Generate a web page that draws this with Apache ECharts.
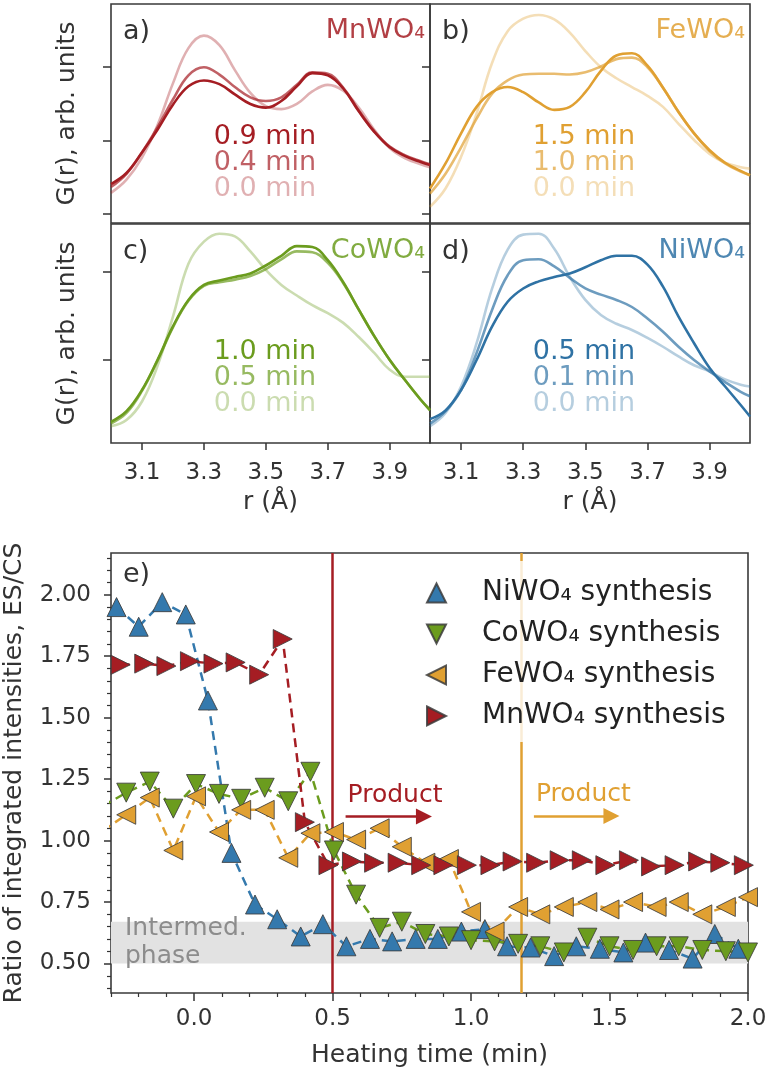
<!DOCTYPE html>
<html>
<head>
<meta charset="utf-8">
<title>Tungstate synthesis</title>
<script src="https://cdn.jsdelivr.net/npm/echarts@6/dist/echarts.min.js"></script>
<style>
	html, body { margin: 0; padding: 0; background: #fff; }
	#chart { width: 774px; height: 1072px; }
</style>
</head>
<body>
<div id="chart"></div>
<script>
// r grid (Å) shared by the four G(r) panels
var r_grid = [3.00, 3.05, 3.10, 3.15, 3.20, 3.25, 3.30, 3.35, 3.40, 3.45, 3.50, 3.55, 3.60, 3.65, 3.70, 3.75, 3.80, 3.85, 3.90, 3.95, 4.00, 4.03];

// a) MnWO4
var mn_g_00 = [0.29, 0.47, 0.77, 1.21, 1.78, 2.26, 2.43, 2.30, 1.96, 1.65, 1.47, 1.43, 1.50, 1.67, 1.76, 1.68, 1.45, 1.15, 0.90, 0.76, 0.68, 0.64];
var mn_g_04 = [0.37, 0.55, 0.84, 1.18, 1.56, 1.89, 2.00, 1.90, 1.73, 1.59, 1.54, 1.59, 1.76, 1.93, 1.91, 1.72, 1.41, 1.13, 0.92, 0.80, 0.72, 0.68];
var mn_g_09 = [0.41, 0.56, 0.84, 1.15, 1.49, 1.74, 1.82, 1.77, 1.63, 1.50, 1.45, 1.54, 1.74, 1.92, 1.89, 1.71, 1.40, 1.12, 0.91, 0.79, 0.71, 0.67];

// b) FeWO4
var fe_g_00 = [0.10, 0.35, 0.78, 1.37, 2.06, 2.49, 2.66, 2.71, 2.65, 2.47, 2.22, 2.00, 1.85, 1.73, 1.61, 1.46, 1.23, 1.01, 0.82, 0.70, 0.64, 0.62];
var fe_g_10 = [0.28, 0.55, 0.91, 1.30, 1.64, 1.82, 1.90, 1.91, 1.91, 1.90, 1.93, 2.01, 2.11, 2.13, 2.00, 1.72, 1.39, 1.10, 0.86, 0.69, 0.58, 0.53];
var fe_g_15 = [0.35, 0.69, 1.10, 1.46, 1.66, 1.73, 1.66, 1.52, 1.42, 1.46, 1.66, 1.95, 2.16, 2.19, 2.02, 1.72, 1.39, 1.10, 0.87, 0.70, 0.59, 0.53];

// c) CoWO4
var co_g_00 = [0.25, 0.32, 0.53, 0.93, 1.49, 2.09, 2.34, 2.43, 2.40, 2.23, 2.02, 1.85, 1.73, 1.62, 1.53, 1.42, 1.26, 1.08, 0.89, 0.81, 0.81, 0.81];
var co_g_05 = [0.28, 0.40, 0.65, 0.99, 1.37, 1.67, 1.84, 1.88, 1.91, 1.95, 2.03, 2.14, 2.23, 2.22, 2.10, 1.87, 1.57, 1.27, 1.00, 0.77, 0.55, 0.44];
var co_g_10 = [0.30, 0.42, 0.66, 1.00, 1.38, 1.68, 1.85, 1.90, 1.94, 1.98, 2.07, 2.18, 2.29, 2.28, 2.13, 1.88, 1.57, 1.27, 1.00, 0.77, 0.55, 0.43];

// d) NiWO4
var ni_g_00 = [0.25, 0.40, 0.70, 1.19, 1.81, 2.25, 2.42, 2.43, 2.26, 1.94, 1.68, 1.51, 1.41, 1.34, 1.25, 1.15, 1.04, 0.94, 0.87, 0.78, 0.72, 0.70];
var ni_g_01 = [0.28, 0.42, 0.66, 1.08, 1.57, 1.96, 2.13, 2.14, 2.06, 1.93, 1.81, 1.74, 1.68, 1.60, 1.47, 1.32, 1.15, 1.00, 0.87, 0.75, 0.64, 0.59];
var ni_g_05 = [0.33, 0.43, 0.66, 1.00, 1.38, 1.66, 1.81, 1.89, 1.94, 1.98, 2.05, 2.13, 2.18, 2.18, 2.08, 1.83, 1.49, 1.19, 0.91, 0.70, 0.49, 0.36];

// e) ES/CS ratio vs heating time (min)
var ni_time = [-0.28, -0.20, -0.115, -0.03, 0.05, 0.135, 0.22, 0.30, 0.385, 0.465, 0.55, 0.635, 0.715, 0.80, 0.88, 0.965, 1.05, 1.13, 1.215, 1.30, 1.38, 1.465, 1.55, 1.63, 1.715, 1.80, 1.88, 1.965];
var ni_ratio = [1.95, 1.87, 1.97, 1.92, 1.57, 0.95, 0.74, 0.68, 0.61, 0.66, 0.57, 0.60, 0.59, 0.60, 0.60, 0.63, 0.64, 0.57, 0.565, 0.53, 0.57, 0.56, 0.545, 0.585, 0.555, 0.52, 0.62, 0.56];

var co_time = [-0.33, -0.245, -0.16, -0.075, 0.007, 0.09, 0.17, 0.255, 0.34, 0.42, 0.505, 0.585, 0.67, 0.75, 0.835, 0.92, 1.00, 1.085, 1.17, 1.25, 1.335, 1.42, 1.50, 1.585, 1.67, 1.75, 1.835, 1.92, 2.00];
var co_ratio = [1.14, 1.195, 1.24, 1.13, 1.23, 1.19, 1.17, 1.215, 1.16, 1.28, 0.96, 0.78, 0.645, 0.67, 0.62, 0.61, 0.595, 0.59, 0.58, 0.57, 0.545, 0.605, 0.57, 0.555, 0.57, 0.57, 0.555, 0.55, 0.545];

var fe_time = [-0.33, -0.245, -0.16, -0.075, 0.007, 0.09, 0.17, 0.255, 0.34, 0.42, 0.505, 0.585, 0.67, 0.75, 0.835, 0.92, 1.00, 1.085, 1.17, 1.25, 1.335, 1.42, 1.50, 1.585, 1.67, 1.75, 1.835, 1.92, 2.00];
var fe_ratio = [1.04, 1.105, 1.175, 0.96, 1.18, 1.035, 1.125, 1.125, 0.93, 1.03, 1.035, 1.004, 1.05, 0.975, 0.91, 0.925, 0.71, 0.63, 0.73, 0.70, 0.73, 0.75, 0.72, 0.75, 0.73, 0.75, 0.70, 0.73, 0.77];

var mn_time = [-0.265, -0.18, -0.10, -0.015, 0.07, 0.15, 0.235, 0.32, 0.40, 0.485, 0.57, 0.65, 0.735, 0.82, 0.90, 0.985, 1.07, 1.15, 1.235, 1.32, 1.40, 1.485, 1.57, 1.65, 1.735, 1.82, 1.90, 1.985];
var mn_ratio = [1.715, 1.72, 1.71, 1.73, 1.72, 1.725, 1.675, 1.82, 1.075, 0.90, 0.915, 0.91, 0.91, 0.90, 0.90, 0.90, 0.90, 0.915, 0.91, 0.92, 0.92, 0.90, 0.92, 0.895, 0.90, 0.915, 0.91, 0.90];

// ticks
var r_ticks = [3.1, 3.3, 3.5, 3.7, 3.9];
var time_ticks = [0.0, 0.5, 1.0, 1.5, 2.0];
var ratio_ticks = [0.50, 0.75, 1.00, 1.25, 1.50, 1.75, 2.00];

// annotations
var intermed_band = [0.50, 0.67];
var mn_product_time = 0.50;
var fe_product_time = 1.18;
var mn_arrow = [[0.547, 1.098], [0.83, 1.098]];
var fe_arrow = [[1.227, 1.10], [1.507, 1.10]];

var mn_color = '#a51d23';
var fe_color = '#e0a032';
var co_color = '#6b9c1e';
var ni_color = '#2f72a4';
var shade = [0.35, 0.7, 1];
var font = 'DejaVu Sans';

var grids = [
	{ left: 111, top: 4, width: 319, height: 219 },
	{ left: 430, top: 4, width: 320, height: 219 },
	{ left: 111, top: 224, width: 319, height: 219 },
	{ left: 430, top: 224, width: 320, height: 219 },
	{ left: 111, top: 553, width: 637, height: 440 },
];

var panels = [
	{ label: 'a)', name: 'MnWO₄', color: mn_color, times: ['0.9 min', '0.4 min', '0.0 min'], curves: [mn_g_00, mn_g_04, mn_g_09] },
	{ label: 'b)', name: 'FeWO₄', color: fe_color, times: ['1.5 min', '1.0 min', '0.0 min'], curves: [fe_g_00, fe_g_10, fe_g_15] },
	{ label: 'c)', name: 'CoWO₄', color: co_color, times: ['1.0 min', '0.5 min', '0.0 min'], curves: [co_g_00, co_g_05, co_g_10] },
	{ label: 'd)', name: 'NiWO₄', color: ni_color, times: ['0.5 min', '0.1 min', '0.0 min'], curves: [ni_g_00, ni_g_01, ni_g_05] },
];

function pairs(xs, ys) {
	return xs.map(function(x, i) {
		return [x, ys[i]];
	});
}

function minorValues(from, to, step, skip) {
	let out = [];
	for (let k = Math.round(from / step); k * step <= to + 1e-9; k++) {
		let v = +(k * step).toFixed(3);
		if (skip.indexOf(v) === -1) out.push(v);
	}
	return out;
}

var xAxes = [];
var yAxes = [];
var series = [];
var graphics = [];

panels.forEach(function(p, i) {
	let bottom_row = i >= 2;
	let left_col = i % 2 === 0;
	let g = grids[i];

	xAxes.push({
		type: 'value',
		gridIndex: i,
		min: 3.0,
		max: 4.03,
		axisLine: { show: false, onZero: false },
		splitLine: { show: false },
		axisTick: {
			show: bottom_row,
			customValues: r_ticks,
			length: 7,
			lineStyle: { color: '#333', width: 1.5 },
		},
		axisLabel: {
			show: bottom_row,
			customValues: r_ticks,
			formatter: function(v) { return v.toFixed(1); },
			fontSize: 23,
			color: '#333',
			margin: 19,
		},
		name: bottom_row ? 'r (Å)' : '',
		nameLocation: 'middle',
		nameGap: 47,
		nameTextStyle: { fontSize: 25, color: '#333' },
	});

	yAxes.push({
		type: 'value',
		gridIndex: i,
		min: bottom_row ? 0.06 : -0.12,
		max: bottom_row ? 2.54 : 2.86,
		axisLine: { show: false, onZero: false },
		splitLine: { show: false },
		axisLabel: { show: false },
		axisTick: {
			show: true,
			customValues: bottom_row ? [1, 2] : [0, 1, 2],
			length: 8,
			lineStyle: { color: '#333', width: 1.5 },
		},
		name: left_col ? 'G(r), arb. units' : '',
		nameLocation: 'middle',
		nameGap: 31,
		nameTextStyle: { fontSize: 25, color: '#333' },
	});

	p.curves.forEach(function(c, k) {
		series.push({
			type: 'line',
			name: p.name + ' ' + p.times[2 - k],
			xAxisIndex: i,
			yAxisIndex: i,
			data: pairs(r_grid, c),
			smooth: 0.4,
			showSymbol: false,
			lineStyle: { color: p.color, width: 2.6, opacity: shade[k] },
		});
	});

	// panel letter, compound, time labels
	let text_top = bottom_row ? g.top + 128 : g.top + 133;
	graphics.push({
		type: 'text',
		x: g.left + 12,
		y: g.top + 28,
		style: { text: p.label, fontSize: 27, fontFamily: font, fill: '#333', verticalAlign: 'middle' },
	});
	graphics.push({
		type: 'text',
		x: g.left + g.width - 5,
		y: g.top + 27,
		style: { text: p.name, fontSize: 27, fontFamily: font, fill: p.color, opacity: 0.85, align: 'right', verticalAlign: 'middle' },
	});
	p.times.forEach(function(t, k) {
		graphics.push({
			type: 'text',
			x: g.left + 154,
			y: text_top + k * 26,
			style: { text: t, fontSize: 27, fontFamily: font, fill: p.color, opacity: shade[2 - k], align: 'center', verticalAlign: 'middle' },
		});
	});
});

// panel e axes (index 4 = labels + major ticks, index 5 = minor ticks)
xAxes.push({
	type: 'value',
	gridIndex: 4,
	min: -0.3,
	max: 2.0,
	axisLine: { show: false, onZero: false },
	splitLine: { show: false },
	axisTick: { customValues: time_ticks, length: 8, lineStyle: { color: '#333', width: 1.5 } },
	axisLabel: {
		customValues: time_ticks,
		formatter: function(v) { return v.toFixed(1); },
		fontSize: 23,
		color: '#333',
		margin: 15,
	},
	name: 'Heating time (min)',
	nameLocation: 'middle',
	nameGap: 50,
	nameTextStyle: { fontSize: 25, color: '#333' },
});
xAxes.push({
	type: 'value',
	gridIndex: 4,
	position: 'bottom',
	min: -0.3,
	max: 2.0,
	axisLine: { show: false, onZero: false },
	splitLine: { show: false },
	axisLabel: { show: false },
	axisTick: { customValues: minorValues(-0.3, 2.0, 0.1, time_ticks), length: 4, lineStyle: { color: '#333', width: 1.2 } },
});
yAxes.push({
	type: 'value',
	gridIndex: 4,
	min: 0.38,
	max: 2.17,
	axisLine: { show: false, onZero: false },
	splitLine: { show: false },
	axisTick: { customValues: ratio_ticks, length: 7, lineStyle: { color: '#333', width: 1.5 } },
	axisLabel: {
		customValues: ratio_ticks,
		formatter: function(v) { return v.toFixed(2); },
		fontSize: 23,
		color: '#333',
		margin: 20,
	},
	name: 'Ratio of integrated intensities, ES/CS',
	nameLocation: 'middle',
	nameGap: 84,
	nameTextStyle: { fontSize: 25, color: '#333' },
});
yAxes.push({
	type: 'value',
	gridIndex: 4,
	position: 'left',
	min: 0.38,
	max: 2.17,
	axisLine: { show: false, onZero: false },
	splitLine: { show: false },
	axisLabel: { show: false },
	axisTick: { customValues: minorValues(0.4, 2.15, 0.05, ratio_ticks), length: 4, lineStyle: { color: '#333', width: 1.2 } },
});

function ratioSeries(name, xs, ys, color, rotate) {
	return {
		type: 'line',
		name: name,
		xAxisIndex: 4,
		yAxisIndex: 4,
		data: pairs(xs, ys),
		symbol: 'triangle',
		symbolSize: 19,
		symbolRotate: rotate,
		itemStyle: { color: color, borderColor: 'rgba(60,60,60,0.85)', borderWidth: 1 },
		lineStyle: { color: color, width: 2.5, type: [9, 6] },
	};
}

function productMarks(t, arrow, color) {
	return {
		silent: true,
		z: 3,
		symbol: 'none',
		lineStyle: { color: color, width: 2.5, type: 'solid' },
		label: { show: false },
		data: [
			{ xAxis: t },
			[
				{ coord: arrow[0] },
				{
					coord: arrow[1],
					symbol: 'triangle',
					symbolSize: 16,
					label: {
						show: true,
						position: 'insideStartTop',
						formatter: 'Product',
						color: color,
						fontSize: 25,
						distance: 9,
						offset: [-7, 0],
					},
				},
			],
		],
	};
}

var ni_series = ratioSeries('NiWO₄ synthesis', ni_time, ni_ratio, '#3479ad', 0);
ni_series.markArea = {
	silent: true,
	itemStyle: { color: '#e2e2e2' },
	label: {
		show: true,
		position: 'insideLeft',
		distance: 14,
		color: '#8c8c8c',
		fontSize: 25,
		lineHeight: 28,
	},
	data: [[{ yAxis: intermed_band[0], name: 'Intermed.\nphase' }, { yAxis: intermed_band[1] }]],
};

var co_series = ratioSeries('CoWO₄ synthesis', co_time, co_ratio, co_color, 180);

var fe_series = ratioSeries('FeWO₄ synthesis', fe_time, fe_ratio, fe_color, 90);
fe_series.markLine = productMarks(fe_product_time, fe_arrow, fe_color);

var mn_series = ratioSeries('MnWO₄ synthesis', mn_time, mn_ratio, mn_color, -90);
mn_series.markLine = productMarks(mn_product_time, mn_arrow, mn_color);

series.push(ni_series, co_series, fe_series, mn_series);

var option = {
	animation: false,
	backgroundColor: '#fff',
	textStyle: { fontFamily: font },
	grid: grids.map(function(g) {
		return {
			left: g.left,
			top: g.top,
			width: g.width,
			height: g.height,
			outerBoundsMode: 'none',
			containLabel: false,
			show: true,
			borderColor: '#3a3a3a',
			borderWidth: 1.6,
			backgroundColor: 'transparent',
		};
	}),
	xAxis: xAxes,
	yAxis: yAxes,
	legend: {
		orient: 'vertical',
		left: 416,
		top: 561,
		padding: [18, 10, 12, 10],
		itemWidth: 19,
		itemHeight: 19,
		itemGap: 13,
		backgroundColor: 'rgba(255,255,255,0.8)',
		formatter: function(name) {
			return '{gap|}' + name;
		},
		textStyle: {
			fontSize: 28,
			color: '#222',
			fontFamily: font,
			rich: { gap: { width: 31 } },
		},
		data: [
			{ name: 'NiWO₄ synthesis', icon: 'path://M5,0 L10,10 L0,10 Z' },
			{ name: 'CoWO₄ synthesis', icon: 'path://M0,0 L10,0 L5,10 Z' },
			{ name: 'FeWO₄ synthesis', icon: 'path://M10,0 L10,10 L0,5 Z' },
			{ name: 'MnWO₄ synthesis', icon: 'path://M0,0 L10,5 L0,10 Z' },
		],
	},
	graphic: graphics.concat([
		{
			type: 'text',
			x: grids[4].left + 12,
			y: grids[4].top + 22,
			style: { text: 'e)', fontSize: 27, fontFamily: font, fill: '#333', verticalAlign: 'middle' },
		},
	]),
	series: series,
};

var chart = echarts.init(document.getElementById('chart'));
chart.setOption(option);
</script>
</body>
</html>
